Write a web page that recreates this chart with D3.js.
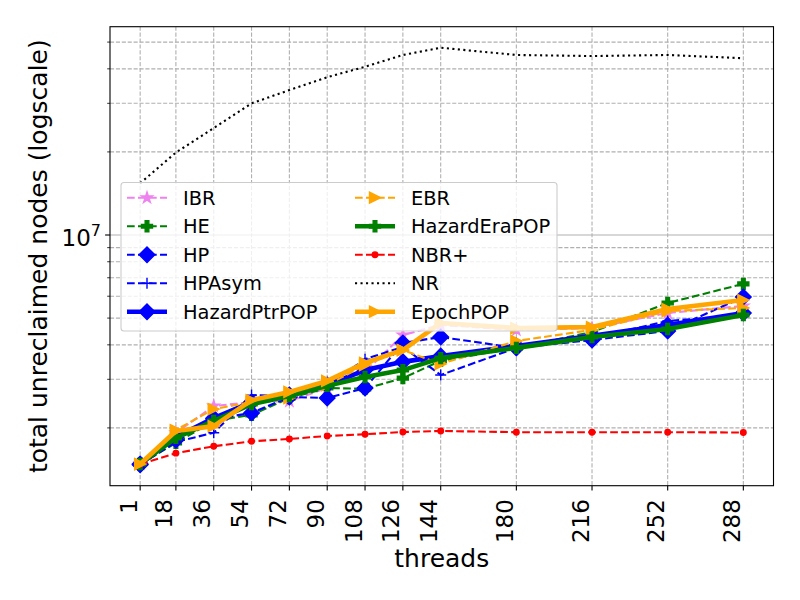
<!DOCTYPE html>
<html>
<head>
<meta charset="utf-8">
<script src="https://cdn.jsdelivr.net/npm/d3@7"></script>
<style>
  body { margin: 0; background: #fff; }
  svg { font-family: "DejaVu Sans", sans-serif; }
</style>
</head>
<body>
<div id="chart"></div>
<script>
const threads = [1, 18, 36, 54, 72, 90, 108, 126, 144, 180, 216, 252, 288];

const ibr = [1.48e6, 1.92e6, 2.40e6, 2.48e6, 2.50e6, 2.79e6, 3.19e6, 4.34e6, 4.72e6, 4.53e6, 4.60e6, 5.22e6, 5.53e6];
const he = [1.48e6, 1.765e6, 2.12e6, 2.23e6, 2.565e6, 2.79e6, 2.77e6, 3.03e6, 3.50e6, 3.90e6, 4.45e6, 5.67e6, 6.65e6];
const hp = [1.47e6, 1.81e6, 2.155e6, 2.265e6, 2.59e6, 2.565e6, 2.79e6, 4.06e6, 4.27e6, 3.90e6, 4.165e6, 4.49e6, 5.96e6];
const hpAsym = [1.47e6, 1.78e6, 1.92e6, 2.63e6, 2.61e6, 2.84e6, 3.55e6, 3.93e6, 3.11e6, 3.90e6, 4.23e6, 4.88e6, 5.13e6];
const hazardPtrPop = [1.48e6, 1.855e6, 2.17e6, 2.48e6, 2.63e6, 2.86e6, 3.24e6, 3.47e6, 3.64e6, 3.96e6, 4.31e6, 4.72e6, 5.22e6];
const ebr = [1.48e6, 1.965e6, 2.34e6, 2.48e6, 2.565e6, 2.86e6, 3.38e6, 3.83e6, 3.41e6, 4.13e6, 4.53e6, 5.30e6, 5.44e6];
const hazardEraPop = [1.48e6, 1.84e6, 2.12e6, 2.44e6, 2.61e6, 2.84e6, 3.06e6, 3.24e6, 3.58e6, 3.90e6, 4.27e6, 4.565e6, 5.13e6];
const nbrPlus = [1.476e6, 1.62e6, 1.716e6, 1.789e6, 1.824e6, 1.87e6, 1.897e6, 1.933e6, 1.95e6, 1.93e6, 1.93e6, 1.93e6, 1.925e6];
const nr = [1.54e7, 1.99e7, 2.44e7, 3.0e7, 3.35e7, 3.73e7, 4.07e7, 4.49e7, 4.77e7, 4.49e7, 4.45e7, 4.49e7, 4.37e7];
const epochPop = [1.48e6, 1.95e6, 2.03e6, 2.52e6, 2.70e6, 2.96e6, 3.44e6, 3.83e6, 4.80e6, 4.60e6, 4.64e6, 5.39e6, 5.81e6];

const yMinorTicks = [2e6, 3e6, 4e6, 5e6, 6e6, 7e6, 8e6, 9e6, 2e7, 3e7, 4e7, 5e7];
const yMajorTicks = [1e7];

const DASHED = '7.7,3.3';
const DOTTED = '2.1,3.4';

// plot order = legend order (column-first, two columns)
const series = [
  { name: 'IBR', values: ibr, color: '#ee82ee', width: 2.1, dash: DASHED, marker: 'star' },
  { name: 'HE', values: he, color: '#008000', width: 2.1, dash: DASHED, marker: 'plusFilled' },
  { name: 'HP', values: hp, color: '#0000ff', width: 2.1, dash: DASHED, marker: 'diamond' },
  { name: 'HPAsym', values: hpAsym, color: '#0000ff', width: 2.1, dash: DASHED, marker: 'plus' },
  { name: 'HazardPtrPOP', values: hazardPtrPop, color: '#0000ff', width: 4.6, dash: null, marker: 'diamond' },
  { name: 'EBR', values: ebr, color: '#ffa500', width: 2.1, dash: DASHED, marker: 'triRight' },
  { name: 'HazardEraPOP', values: hazardEraPop, color: '#008000', width: 4.6, dash: null, marker: 'plusFilled' },
  { name: 'NBR+', values: nbrPlus, color: '#ff0000', width: 2.1, dash: DASHED, marker: 'point' },
  { name: 'NR', values: nr, color: '#000000', width: 2.1, dash: DOTTED, marker: null },
  { name: 'EpochPOP', values: epochPop, color: '#ffa500', width: 4.6, dash: null, marker: 'triRight' }
];

const W = 800, H = 600;
const plotLeft = 110, plotRight = 773.5, plotTop = 26.7, plotBottom = 485.7;
const MS = 11;

const x = d3.scaleLinear().domain([-13.35, 302.35]).range([plotLeft, plotRight]);
const y = d3.scaleLog().domain([1.235e6, 5.685e7]).range([plotBottom, plotTop]);

function markerPath(type) {
  const h = MS / 2;
  if (type === 'star') {
    const pts = [];
    for (let i = 0; i < 10; i++) {
      const r = i % 2 === 0 ? h * 1.05 : h * 1.05 * 0.382;
      const a = -Math.PI / 2 + i * Math.PI / 5;
      pts.push([r * Math.cos(a), r * Math.sin(a)]);
    }
    return 'M' + pts.map(p => p.join(',')).join('L') + 'Z';
  }
  if (type === 'plusFilled') {
    const a = h / 3;
    return `M${-a},${-h}H${a}V${-a}H${h}V${a}H${a}V${h}H${-a}V${a}H${-h}V${-a}H${-a}Z`;
  }
  if (type === 'diamond') {
    const d = MS * 0.707;
    return `M0,${-d}L${d},0L0,${d}L${-d},0Z`;
  }
  if (type === 'triRight') {
    return `M${h},0L${-h},${-h}L${-h},${h}Z`;
  }
  if (type === 'plus') {
    return `M${-h},0H${h}M0,${-h}V${h}`;
  }
  if (type === 'point') {
    const r = MS / 4;
    return `M${r},0A${r},${r} 0 1,1 ${-r},0A${r},${r} 0 1,1 ${r},0Z`;
  }
  return null;
}

function drawMarker(sel, s) {
  const p = markerPath(s.marker);
  if (!p) return sel;
  return sel.append('path')
    .attr('d', p)
    .attr('fill', s.marker === 'plus' ? 'none' : s.color)
    .attr('stroke', s.color)
    .attr('stroke-width', 1.4)
    .attr('stroke-linejoin', 'miter');
}

const svg = d3.select('#chart').append('svg')
  .attr('width', W)
  .attr('height', H);

svg.append('rect').attr('width', W).attr('height', H).attr('fill', '#fff');

const defs = svg.append('defs');
defs.append('clipPath').attr('id', 'plot-clip')
  .append('rect')
  .attr('x', plotLeft).attr('y', plotTop)
  .attr('width', plotRight - plotLeft).attr('height', plotBottom - plotTop);

// grid
const grid = svg.append('g').attr('class', 'grid');
grid.selectAll('line.vgrid')
  .data(threads)
  .enter().append('line')
  .attr('x1', d => x(d)).attr('x2', d => x(d))
  .attr('y1', plotTop).attr('y2', plotBottom)
  .attr('stroke', '#b0b0b0').attr('stroke-width', 1.1)
  .attr('stroke-dasharray', '4.1,1.8');
grid.selectAll('line.hminor')
  .data(yMinorTicks)
  .enter().append('line')
  .attr('x1', plotLeft).attr('x2', plotRight)
  .attr('y1', d => y(d)).attr('y2', d => y(d))
  .attr('stroke', '#b0b0b0').attr('stroke-width', 1.1)
  .attr('stroke-dasharray', '4.1,1.8');
grid.selectAll('line.hmajor')
  .data(yMajorTicks)
  .enter().append('line')
  .attr('x1', plotLeft).attr('x2', plotRight)
  .attr('y1', d => y(d)).attr('y2', d => y(d))
  .attr('stroke', '#b0b0b0').attr('stroke-width', 1.1);

// series
const plot = svg.append('g').attr('clip-path', 'url(#plot-clip)');
const line = d3.line()
  .x((d, i) => x(threads[i]))
  .y(d => y(d));

series.forEach(s => {
  const g = plot.append('g').attr('class', 'series');
  g.append('path')
    .attr('d', line(s.values))
    .attr('fill', 'none')
    .attr('stroke', s.color)
    .attr('stroke-width', s.width)
    .attr('stroke-dasharray', s.dash)
    .attr('stroke-linejoin', 'round');
  if (s.marker) {
    s.values.forEach((v, i) => {
      const m = g.append('g').attr('transform', `translate(${x(threads[i])},${y(v)})`);
      drawMarker(m, s);
    });
  }
});

// frame
svg.append('rect')
  .attr('x', plotLeft).attr('y', plotTop)
  .attr('width', plotRight - plotLeft).attr('height', plotBottom - plotTop)
  .attr('fill', 'none').attr('stroke', '#000').attr('stroke-width', 1.1);

// x axis
const xAxis = svg.append('g');
xAxis.selectAll('line')
  .data(threads)
  .enter().append('line')
  .attr('x1', d => x(d)).attr('x2', d => x(d))
  .attr('y1', plotBottom).attr('y2', plotBottom + 4.9)
  .attr('stroke', '#000').attr('stroke-width', 1.1);
xAxis.selectAll('text')
  .data(threads)
  .enter().append('text')
  .attr('transform', d => `translate(${x(d) - 3.5},${plotBottom + 13.5}) rotate(-90)`)
  .attr('text-anchor', 'end')
  .attr('font-size', 23)
  .text(d => d);

svg.append('text')
  .attr('x', (plotLeft + plotRight) / 2)
  .attr('y', 567)
  .attr('text-anchor', 'middle')
  .attr('font-size', 25)
  .text('threads');

// y axis
const yAxis = svg.append('g');
yAxis.selectAll('line.minor')
  .data(yMinorTicks)
  .enter().append('line')
  .attr('x1', plotLeft - 2.8).attr('x2', plotLeft)
  .attr('y1', d => y(d)).attr('y2', d => y(d))
  .attr('stroke', '#000').attr('stroke-width', 0.8);
yAxis.selectAll('line.major')
  .data(yMajorTicks)
  .enter().append('line')
  .attr('x1', plotLeft - 4.9).attr('x2', plotLeft)
  .attr('y1', d => y(d)).attr('y2', d => y(d))
  .attr('stroke', '#000').attr('stroke-width', 1.1);
yAxis.selectAll('text')
  .data(yMajorTicks)
  .enter().append('text')
  .attr('x', plotLeft - 9)
  .attr('y', d => y(d) + 11)
  .attr('text-anchor', 'end')
  .attr('font-size', 23)
  .each(function(d) {
    const t = d3.select(this);
    t.append('tspan').text('10');
    t.append('tspan').attr('dy', -10).attr('font-size', 16).text(Math.round(Math.log10(d)));
  });

svg.append('text')
  .attr('transform', `translate(47,${(plotTop + plotBottom) / 2}) rotate(-90)`)
  .attr('text-anchor', 'middle')
  .attr('font-size', 25)
  .text('total unreclaimed nodes (logscale)');

// legend
const legend = svg.append('g').attr('class', 'legend');
legend.append('rect')
  .attr('x', 121).attr('y', 182.5)
  .attr('width', 436).attr('height', 148.5)
  .attr('rx', 3).attr('ry', 3)
  .attr('fill', '#fff').attr('fill-opacity', 0.8)
  .attr('stroke', '#cccccc').attr('stroke-width', 1.1);

const rowsPerCol = 5;
series.forEach((s, i) => {
  const col = Math.floor(i / rowsPerCol);
  const row = i % rowsPerCol;
  const hx = col === 0 ? 127 : 355;
  const cy = 197.7 + row * 28.5;
  const item = legend.append('g');
  item.append('line')
    .attr('x1', hx).attr('x2', hx + 40)
    .attr('y1', cy).attr('y2', cy)
    .attr('stroke', s.color)
    .attr('stroke-width', s.width)
    .attr('stroke-dasharray', s.dash);
  if (s.marker) {
    drawMarker(item.append('g').attr('transform', `translate(${hx + 20},${cy})`), s);
  }
  item.append('text')
    .attr('x', hx + 56)
    .attr('y', cy + 7)
    .attr('font-size', 19.4)
    .text(s.name);
});
</script>
</body>
</html>
